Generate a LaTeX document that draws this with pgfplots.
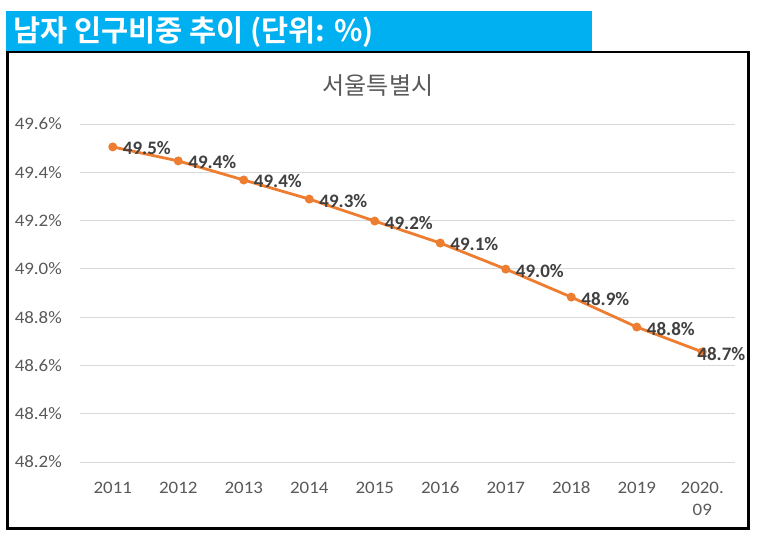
\documentclass[border=0pt]{standalone}
\usepackage{fontspec}
\usepackage{pgfplots}
\pgfplotsset{compat=1.18}
\setmainfont{Carlito}
\newfontfamily\tickfont[FakeStretch=1.08]{Carlito}
\newfontfamily\kr{Noto Sans CJK KR}
\newfontfamily\krb{Noto Sans CJK KR Bold}
\definecolor{hdrblue}{RGB}{0,176,240}
\definecolor{lineorange}{RGB}{237,125,49}
\definecolor{tickgray}{RGB}{89,89,89}
\definecolor{labelgray}{RGB}{64,64,64}
\definecolor{gridgray}{RGB}{217,217,217}
\begin{document}
\begin{tikzpicture}[x=1pt,y=1pt]
\useasboundingbox (0,0) rectangle (757,538);
\fill[white] (0,0) rectangle (757,538);
\begin{axis}[
  at={(80pt,76pt)}, anchor=south west,
  scale only axis, width=655pt, height=338pt,
  xmin=-0.5, xmax=9.5, ymin=48.2, ymax=49.6,
  axis line style={draw=none},
  ymajorgrids, grid style={gridgray, line width=0.9pt},
  ytick={48.2,48.4,48.6,48.8,49.0,49.2,49.4,49.6},
  yticklabel={\pgfmathprintnumber[fixed,fixed zerofill,precision=1]{\tick}\%},
  xtick={0,1,2,3,4,5,6,7,8,9},
  xticklabels={\strut 2011,\strut 2012,\strut 2013,\strut 2014,\strut 2015,\strut 2016,\strut 2017,\strut 2018,\strut 2019,{\strut 2020.\\09}},
  /pgf/number format/assume math mode=true,
  tick style={draw=none},
  yticklabel style={font=\fontsize{17.5}{20}\tickfont, text=tickgray, inner sep=0pt, anchor=east, xshift=-18pt},
  xticklabel style={font=\fontsize{17.5}{22}\tickfont, text=tickgray, inner sep=0pt, anchor=north, yshift=-15.6pt, align=center},
  clip=false,
]
\addplot[lineorange, line width=2.8pt, mark=*, mark size=3pt, mark options={fill=lineorange, draw=lineorange}]
coordinates {(0,49.505)(1,49.447)(2,49.368)(3,49.289)(4,49.198)(5,49.107)(6,48.999)(7,48.883)(8,48.759)(9,48.656)};
\addplot[draw=none, no marks, point meta=explicit symbolic,
  nodes near coords, every node near coord/.append style={anchor=west, xshift=10pt, yshift=-1.5pt, inner sep=0pt, text=labelgray, font=\fontsize{19}{20}\selectfont\bfseries}]
coordinates {(0,49.505)[49.5\%](1,49.447)[49.4\%](2,49.368)[49.4\%](3,49.289)[49.3\%](4,49.198)[49.2\%](5,49.107)[49.1\%](6,48.999)[49.0\%](7,48.883)[48.9\%](8,48.759)[48.8\%]};
\addplot[draw=none, no marks, point meta=explicit symbolic,
  nodes near coords, every node near coord/.append style={anchor=west, xshift=-5pt, yshift=-2pt, inner sep=0pt, text=labelgray, font=\fontsize{19}{20}\selectfont\bfseries}]
coordinates {(9,48.656)[48.7\%]};
\end{axis}
\draw[black, line width=2.6pt] (7.5,9.5) rectangle (748.5,486);
\fill[hdrblue] (6,487) rectangle (592,527);
\node[anchor=west, inner sep=0pt, text=white, font=\fontsize{29.5}{32}\krb] at (13,506) {남자 인구비중 추이 (단위: \%)};
\node[inner sep=0pt, text=tickgray, font=\fontsize{24}{26}\kr] at (378,452) {서울특별시};
\end{tikzpicture}
\end{document}
